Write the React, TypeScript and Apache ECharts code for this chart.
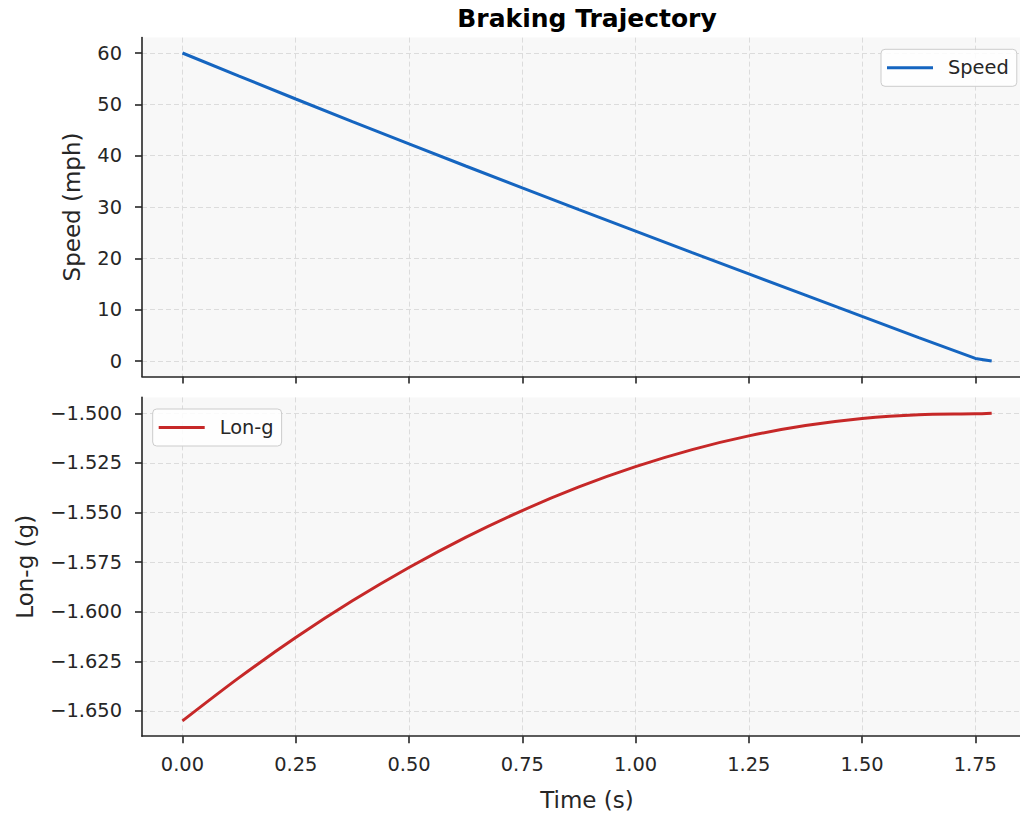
import React, { useEffect, useRef } from "react";
import * as echarts from "echarts";

const timeS = [0, 0.125, 0.25, 0.375, 0.5, 0.625, 0.75, 0.875, 1.0, 1.125, 1.25, 1.375, 1.5, 1.625, 1.75, 1.786];
const speedMph = [60, 55.49, 51.04, 46.65, 42.3, 37.99, 33.73, 29.49, 25.29, 21.11, 16.96, 12.82, 8.69, 4.57, 0.5, 0];
const lonG = [-1.655, -1.6332, -1.613, -1.5945, -1.5777, -1.5625, -1.549, -1.5371, -1.5269, -1.5183, -1.5114, -1.5062, -1.5026, -1.5007, -1.5003, -1.5];

const xTicks = [0, 0.25, 0.5, 0.75, 1.0, 1.25, 1.5, 1.75];
const speedTicks = [0, 10, 20, 30, 40, 50, 60];
const lonGTicks = [-1.65, -1.625, -1.6, -1.575, -1.55, -1.525, -1.5];

const FONT = "DejaVu Sans";
const AXIS_COLOR = "#262626";
const TEXT_COLOR = "#262626";

export default function App() {
  const ref = useRef<HTMLDivElement>(null);

  useEffect(() => {
    if (!ref.current) return;
    const chart = echarts.init(ref.current, undefined, { renderer: "svg" });

    const splitLine = {
      show: true,
      lineStyle: { color: "#dcdcdc", type: [5, 3], width: 1 },
    };
    const axisLine = { show: true, onZero: false, lineStyle: { color: AXIS_COLOR, width: 1.6 } };
    const axisTick = (vals: number[]) => ({
      show: true,
      inside: false,
      length: 7,
      customValues: vals,
      lineStyle: { color: AXIS_COLOR, width: 1.6 },
    });

    const speedData = timeS.map((t, i) => [t, speedMph[i]]);
    const lonData = timeS.map((t, i) => [t, lonG[i]]);

    const legendBase = {
      orient: "vertical",
      icon: "rect",
      itemWidth: 46,
      itemHeight: 3,
      padding: [9, 8, 9, 6],
      backgroundColor: "rgba(255,255,255,0.85)",
      borderColor: "#cccccc",
      borderWidth: 1,
      borderRadius: 4,
      textStyle: { fontFamily: FONT, fontSize: 19.4, color: TEXT_COLOR, padding: [0, 0, 0, 10] },
    };

    const option: any = {
      animation: false,
      backgroundColor: "#ffffff",
      textStyle: { fontFamily: FONT },
      graphic: [
        {
          type: "text",
          x: 587,
          y: 18,
          style: {
            text: "Braking Trajectory",
            font: `bold 25px "${FONT}"`,
            fill: "#000",
            textAlign: "center",
            textVerticalAlign: "middle",
          },
        },
      ],
      grid: [
        { left: 142, top: 37.6, width: 890, height: 338.8, show: true, backgroundColor: "#f8f8f8", borderWidth: 0 },
        { left: 142, top: 397.4, width: 890, height: 338.8, show: true, backgroundColor: "#f8f8f8", borderWidth: 0 },
      ],
      legend: [
        { ...legendBase, data: ["Speed"], left: 881, top: 49.3 },
        { ...legendBase, data: ["Lon-g"], left: 152.7, top: 409 },
      ],
      xAxis: [
        {
          type: "value",
          gridIndex: 0,
          min: -0.0893,
          max: 1.875,
          axisLine,
          axisTick: axisTick(xTicks),
          axisLabel: { show: false, customValues: xTicks },
          splitLine,
        },
        {
          type: "value",
          gridIndex: 1,
          min: -0.0893,
          max: 1.875,
          name: "Time (s)",
          nameLocation: "middle",
          nameGap: 52,
          nameTextStyle: { fontFamily: FONT, fontSize: 23, color: TEXT_COLOR },
          axisLine,
          axisTick: axisTick(xTicks),
          axisLabel: {
            show: true,
            customValues: xTicks,
            margin: 19,
            fontFamily: FONT,
            fontSize: 19.4,
            color: TEXT_COLOR,
            formatter: (v: number) => v.toFixed(2),
          },
          splitLine,
        },
      ],
      yAxis: [
        {
          type: "value",
          gridIndex: 0,
          min: -3,
          max: 63,
          name: "Speed (mph)",
          nameLocation: "middle",
          nameGap: 58.5,
          nameTextStyle: { fontFamily: FONT, fontSize: 23, color: TEXT_COLOR },
          axisLine,
          axisTick: axisTick(speedTicks),
          axisLabel: {
            show: true,
            customValues: speedTicks,
            margin: 20,
            fontFamily: FONT,
            fontSize: 19.4,
            color: TEXT_COLOR,
            formatter: (v: number) => String(v),
          },
          splitLine,
        },
        {
          type: "value",
          gridIndex: 1,
          min: -1.6627,
          max: -1.492,
          name: "Lon-g (g)",
          nameLocation: "middle",
          nameGap: 105.5,
          nameTextStyle: { fontFamily: FONT, fontSize: 23, color: TEXT_COLOR },
          axisLine,
          axisTick: axisTick(lonGTicks),
          axisLabel: {
            show: true,
            customValues: lonGTicks,
            margin: 20,
            fontFamily: FONT,
            fontSize: 19.4,
            color: TEXT_COLOR,
            formatter: (v: number) => (v < 0 ? "\u2212" : "") + Math.abs(v).toFixed(3),
          },
          splitLine,
        },
      ],
      series: [
        {
          name: "Speed",
          type: "line",
          xAxisIndex: 0,
          yAxisIndex: 0,
          data: speedData,
          showSymbol: false,
          symbol: "none",
          lineStyle: { color: "#1565C0", width: 3 },
          itemStyle: { color: "#1565C0" },
        },
        {
          name: "Lon-g",
          type: "line",
          xAxisIndex: 1,
          yAxisIndex: 1,
          data: lonData,
          showSymbol: false,
          symbol: "none",
          smooth: 0.3,
          lineStyle: { color: "#C62828", width: 3 },
          itemStyle: { color: "#C62828" },
        },
      ],
    };

    chart.setOption(option);
    return () => chart.dispose();
  }, []);

  return (
    <div
      style={{ position: "absolute", left: 0, top: 0, width: 1020, height: 815, overflow: "hidden" }}
    >
      <div ref={ref} style={{ width: 1032, height: 815 }} />
    </div>
  );
}
